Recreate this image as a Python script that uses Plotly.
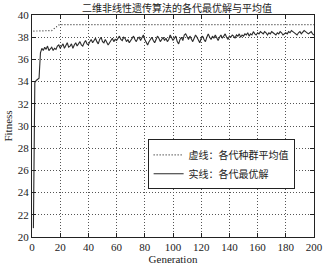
import plotly.graph_objects as go

title_text = "二维非线性遗传算法的各代最优解与平均值"
legend_avg = "虚线：各代种群平均值"
legend_best = "实线：各代最优解"
x_title = "Generation"
y_title = "Fitness"

generations = list(range(1, 201))

best_values = [
    20.8, 33.9, 34.1, 34.2, 34.3, 36.6,
    37.0, 36.8, 37.1, 36.9, 37.2, 36.8, 37.0, 37.1, 36.8, 37.0, 36.9, 37.2, 37.3, 37.0,
    37.2, 37.4, 37.0, 37.3, 37.5, 37.1, 37.2, 37.4, 37.0, 37.3, 37.5, 37.2, 37.4, 37.6, 37.3, 37.2, 37.5, 37.7, 37.4, 37.3,
    37.6, 37.8, 37.5, 37.7, 37.9, 37.6, 37.4, 37.8, 38.0, 37.6, 37.5, 37.8, 37.6, 37.3, 37.5, 37.7, 37.9, 37.6, 37.8, 37.7,
    37.9, 38.1, 37.8, 37.7, 38.0, 37.9, 37.6, 37.8, 37.5, 37.7, 37.9, 38.1, 37.8, 37.6, 37.9, 38.0, 37.7, 37.9, 38.2, 37.8,
    37.5, 37.3, 37.6, 37.8, 38.0, 37.7, 37.5, 37.8, 38.1, 37.9, 37.6, 37.8, 38.0, 37.7, 37.9, 37.6, 37.8, 38.2, 38.0, 37.7,
    37.9, 38.1, 37.6, 37.4, 37.8, 38.0, 37.7, 38.2, 38.3, 38.0, 37.8, 38.1, 37.9, 37.6, 37.9, 38.2, 38.0, 37.7, 37.5, 37.9,
    38.1, 37.8, 37.6, 38.0, 38.3, 38.0, 37.8, 38.1, 37.9, 38.2, 38.0, 37.7, 38.0, 38.2, 37.9, 38.1, 38.3, 38.0, 37.8, 38.1,
    38.0, 38.2, 38.1, 37.9, 38.2, 38.1, 38.3, 38.0, 38.2, 38.1, 38.3, 38.2, 38.4, 38.1, 38.3, 38.2, 38.5, 38.3, 38.2, 38.4,
    38.3, 38.5, 38.4, 38.3, 38.5, 38.4, 38.2, 38.4, 38.3, 38.5, 38.4, 38.3, 38.2, 38.4, 38.3, 38.5, 38.4, 38.2, 38.3, 38.4,
    38.3, 38.5, 38.4, 38.6, 38.5, 38.4, 38.3, 38.2, 38.4, 38.5, 38.3, 38.5, 38.6, 38.5, 38.4, 38.3, 38.4, 38.5, 38.3, 38.2,
]

# average line read at its breakpoints (flat segments in between)
avg_generations = [1, 13, 14, 15, 16, 17, 18, 19, 20, 200]
avg_values = [38.55, 38.55, 38.6, 38.7, 38.8, 38.95, 39.05, 39.1, 39.13, 39.13]

x_ticks = [0, 20, 40, 60, 80, 100, 120, 140, 160, 180, 200]
y_ticks = [20, 22, 24, 26, 28, 30, 32, 34, 36, 38, 40]

serif = "Liberation Serif, Times New Roman, serif"
cjk = "Noto Sans CJK SC"

fig = go.Figure()
fig.add_trace(go.Scatter(
    x=avg_generations, y=avg_values, mode="lines", name=legend_avg,
    line=dict(color="#333333", width=1.2, dash="1px,2px"),
))
fig.add_trace(go.Scatter(
    x=generations, y=best_values, mode="lines", name=legend_best,
    line=dict(color="#2a2a2a", width=1.1),
))

axis_common = dict(
    showline=True, linecolor="#222222", linewidth=1, mirror="allticks",
    ticks="inside", ticklen=4, tickcolor="#222222",
    showgrid=True, gridcolor="#555555", griddash="1px,2px", gridwidth=1,
    zeroline=False,
    tickfont=dict(family=serif, size=11, color="#222222"),
)

fig.update_layout(
    width=331, height=271,
    margin=dict(l=31, r=8, t=15, b=26),
    paper_bgcolor="white", plot_bgcolor="white",
    title=dict(text=title_text, x=0.535, xanchor="center", y=0.97, yanchor="middle",
               font=dict(family=cjk, size=10, color="#222222")),
    xaxis=dict(range=[0, 200], tickvals=x_ticks,
               title=dict(text=x_title, standoff=2, font=dict(family=serif, size=11, color="#222222")),
               **axis_common),
    yaxis=dict(range=[20, 40], tickvals=y_ticks,
               title=dict(text=y_title, standoff=2, font=dict(family=serif, size=11, color="#222222")),
               **axis_common),
    legend=dict(x=0.41, y=0.44, xanchor="left", yanchor="top",
                bgcolor="white", bordercolor="#222222", borderwidth=1,
                font=dict(family=cjk, size=10, color="#222222"),
                tracegroupgap=0, itemwidth=30),
    showlegend=True,
)

fig.write_html("out.html")
